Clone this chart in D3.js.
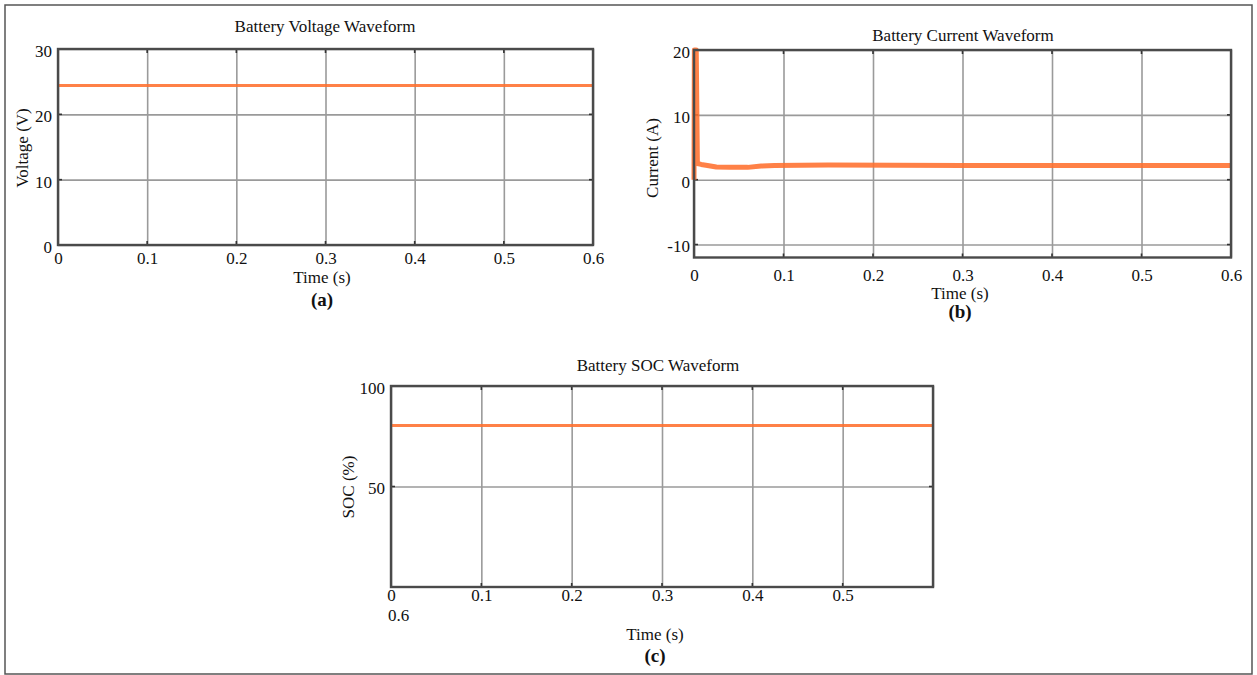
<!DOCTYPE html>
<html>
<head>
<meta charset="utf-8">
<script src="https://cdn.jsdelivr.net/npm/d3@7"></script>
<style>
  body { margin: 0; background: #fff; }
  text { font-family: "Liberation Serif", "Times New Roman", serif; fill: #111; }
</style>
</head>
<body>
<svg id="fig" width="1257" height="675"></svg>
<script>
// time ticks shared by the three scope plots
const timeTicks = [0, 0.1, 0.2, 0.3, 0.4, 0.5, 0.6];

// (a) battery voltage
const voltTime = [0, 0.6];
const voltValues = [24.4, 24.4];
const voltTicks = [0, 10, 20, 30];

// (b) battery current - spike at start then settles near 2.2 A
const currTime = [0, 0.0004, 0.0025, 0.0038, 0.008, 0.015, 0.025, 0.04, 0.06, 0.075, 0.09, 0.15, 0.3, 0.45, 0.6];
const currValues = [0, 20, 20, 2.5, 2.35, 2.2, 1.95, 1.9, 1.9, 2.1, 2.2, 2.25, 2.2, 2.2, 2.2];
const currTicks = [-10, 0, 10, 20];

// (c) battery state of charge
const socTime = [0, 0.6];
const socValues = [80.4, 80.4];
const socTicks = [50, 100];

const serif = '"Liberation Serif", "Times New Roman", serif';
const svg = d3.select("#fig");

// outer frame of the figure
svg.append("rect")
  .attr("x", 5).attr("y", 5)
  .attr("width", 1247).attr("height", 669)
  .attr("fill", "none")
  .attr("stroke", "#555")
  .attr("stroke-width", 1.5);

function scope(opt) {
  const x = d3.scaleLinear().domain([0, 0.6]).range([opt.left, opt.right]);
  const y = d3.scaleLinear().domain(opt.yDomain).range([opt.bottom, opt.top]);
  const h = opt.bottom - opt.top;
  const w = opt.right - opt.left;
  const g = svg.append("g");

  // vertical grid
  g.append("g")
    .attr("transform", `translate(0,${opt.bottom})`)
    .call(d3.axisBottom(x).tickValues(timeTicks).tickSize(-h).tickFormat(""))
    .call(a => a.select(".domain").remove())
    .call(a => a.selectAll("line").attr("stroke", "#9a9a9a").attr("stroke-width", 1.6));

  // horizontal grid
  g.append("g")
    .attr("transform", `translate(${opt.left},0)`)
    .call(d3.axisLeft(y).tickValues(opt.yTicks).tickSize(-w).tickFormat(""))
    .call(a => a.select(".domain").remove())
    .call(a => a.selectAll("line").attr("stroke", "#9a9a9a").attr("stroke-width", 1.6));

  // small dark tick marks at the grid ends
  timeTicks.forEach(t => {
    [[opt.bottom, opt.bottom - 4], [opt.top, opt.top + 4]].forEach(([y1, y2]) => {
      g.append("line").attr("x1", x(t)).attr("x2", x(t)).attr("y1", y1).attr("y2", y2)
        .attr("stroke", "#333").attr("stroke-width", 1.6);
    });
  });
  opt.yTicks.forEach(v => {
    [[opt.left, opt.left + 4], [opt.right, opt.right - 4]].forEach(([x1, x2]) => {
      g.append("line").attr("x1", x1).attr("x2", x2).attr("y1", y(v)).attr("y2", y(v))
        .attr("stroke", "#333").attr("stroke-width", 1.6);
    });
  });

  // waveform
  const line = d3.line().x(d => x(d[0])).y(d => y(d[1]));
  g.append("path")
    .datum(opt.time.map((t, i) => [t, opt.values[i]]))
    .attr("d", line)
    .attr("fill", "none")
    .attr("stroke", "#ff6f2e")
    .attr("stroke-opacity", 0.88)
    .attr("stroke-width", opt.lineWidth)
    .attr("stroke-linejoin", "round");

  // box
  g.append("rect")
    .attr("x", opt.left).attr("y", opt.top)
    .attr("width", w).attr("height", h)
    .attr("fill", "none")
    .attr("stroke", "#4a4a4a")
    .attr("stroke-width", 2.4);

  // y tick labels (plain hyphen for negatives, like the scope export)
  g.append("g")
    .attr("transform", `translate(${opt.left},2)`)
    .call(d3.axisLeft(y).tickValues(opt.yTicks).tickSize(0).tickPadding(opt.yPad).tickFormat(d => String(d)))
    .call(a => a.select(".domain").remove())
    .attr("font-family", serif)
    .attr("font-size", 17)
    .call(a => a.selectAll("text").attr("fill", "#111"));

  // x tick labels
  const xt = opt.xLabelTicks || timeTicks;
  g.append("g")
    .attr("transform", `translate(0,${opt.bottom})`)
    .call(d3.axisBottom(x).tickValues(xt).tickSize(0).tickPadding(opt.xPad).tickFormat(d => d === 0 ? "0" : d3.format(".1f")(d)))
    .call(a => a.select(".domain").remove())
    .attr("font-family", serif)
    .attr("font-size", 17)
    .call(a => a.selectAll("text").attr("fill", "#111"));

  // texts
  g.append("text")
    .attr("x", opt.titleX).attr("y", opt.titleY)
    .attr("text-anchor", "middle")
    .style("font-size", "17px")
    .text(opt.title);
  g.append("text")
    .attr("transform", `translate(${opt.yLabelX},${opt.yLabelY}) rotate(-90)`)
    .attr("text-anchor", "middle")
    .attr("dy", "0.35em")
    .style("font-size", "17px")
    .text(opt.yLabel);
  g.append("text")
    .attr("x", opt.titleX - 3).attr("y", opt.xLabelY)
    .attr("text-anchor", "middle")
    .style("font-size", "17px")
    .text("Time (s)");
  g.append("text")
    .attr("x", opt.titleX - 3).attr("y", opt.capY)
    .attr("text-anchor", "middle")
    .style("font-size", "19px")
    .style("font-weight", "bold")
    .text(opt.caption);

  return { x, y, g };
}

scope({
  left: 58, right: 593, top: 49, bottom: 245,
  yDomain: [0, 30], yTicks: voltTicks, yPad: 6, xPad: 7,
  time: voltTime, values: voltValues, lineWidth: 3,
  title: "Battery Voltage Waveform", titleX: 325, titleY: 32,
  yLabel: "Voltage (V)", yLabelX: 22, yLabelY: 148,
  xLabelY: 283, capY: 306, caption: "(a)"
});

scope({
  left: 694, right: 1231, top: 50, bottom: 257.5,
  yDomain: [-12, 20], yTicks: currTicks, yPad: 4, xPad: 11,
  time: currTime, values: currValues, lineWidth: 5,
  title: "Battery Current Waveform", titleX: 963, titleY: 41,
  yLabel: "Current (A)", yLabelX: 652, yLabelY: 158,
  xLabelY: 299, capY: 318, caption: "(b)"
});

// (c): the last time label wraps onto a second line under the origin
const c = scope({
  left: 391, right: 933, top: 386, bottom: 587,
  yDomain: [0, 100], yTicks: socTicks, yPad: 6, xPad: 2,
  xLabelTicks: timeTicks.slice(0, -1),
  time: socTime, values: socValues, lineWidth: 3,
  title: "Battery SOC Waveform", titleX: 658, titleY: 371,
  yLabel: "SOC (%)", yLabelX: 348, yLabelY: 487,
  xLabelY: 640, capY: 662, caption: "(c)"
});
c.g.append("text")
  .attr("x", c.x(timeTicks[0]) - 3)
  .attr("y", 621)
  .style("font-size", "17px")
  .text(d3.format(".1f")(timeTicks[timeTicks.length - 1]));
</script>
</body>
</html>
